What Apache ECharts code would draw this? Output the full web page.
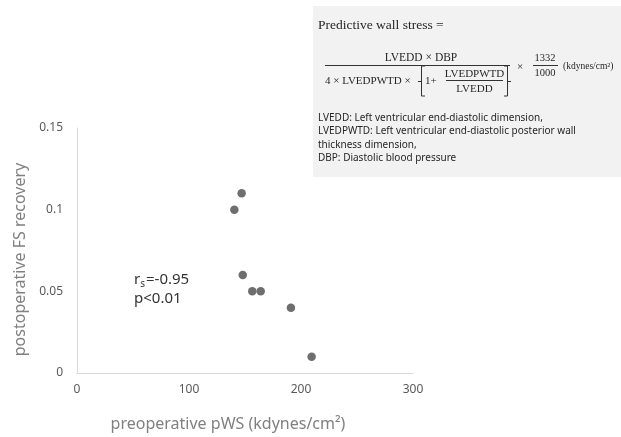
<!DOCTYPE html>
<html>
<head>
<meta charset="utf-8">
<script src="https://cdn.jsdelivr.net/npm/echarts@6/dist/echarts.min.js"></script>
<style>
  html, body { margin: 0; padding: 0; background: #ffffff; }
  #chart { width: 621px; height: 437px; }
</style>
</head>
<body>
<div id="chart"></div>
<script>
// Preoperative predictive wall stress vs. postoperative FS recovery
const pwsValues = [147, 140.5, 148, 156.5, 164, 191, 209.5];
const fsRecovery = [0.11, 0.10, 0.06, 0.05, 0.05, 0.04, 0.01];
const xTicks = { min: 0, max: 300, interval: 100 };
const yTicks = { min: 0, max: 0.15, interval: 0.05 };
const xName = 'preoperative pWS (kdynes/cm\u00B2)';
const yName = 'postoperative FS recovery';
const statLines = ['-0.95', 'p<0.01'];
const legendLines = [
  'LVEDD: Left ventricular end-diastolic dimension,',
  'LVEDPWTD: Left ventricular end-diastolic posterior wall',
  'thickness dimension,',
  'DBP: Diastolic blood pressure'
];

const points = pwsValues.map((x, i) => [x, fsRecovery[i]]);

const sans = '"Noto Sans", "Open Sans", sans-serif';
const serif = '"Liberation Serif", "DejaVu Serif", serif';
const ink = '#262626';

function t(text, x, y, size, align, font) {
  return {
    type: 'text',
    x: x, y: y,
    style: { text: text, font: size + 'px ' + (font || serif), fill: ink,
             align: align || 'left', verticalAlign: 'middle' }
  };
}
function seg(x1, y1, x2, y2) {
  return { type: 'line', shape: { x1: x1, y1: y1, x2: x2, y2: y2 },
           style: { stroke: '#333', lineWidth: 1 } };
}
function poly(pts) {
  return { type: 'polyline', shape: { points: pts },
           style: { stroke: '#333', lineWidth: 1, fill: null } };
}

// Formula panel for the predictive wall stress definition
const formula = [
  { type: 'rect', shape: { x: 313, y: 6, width: 308, height: 171 },
    style: { fill: '#f2f2f2' }, z: 0 },
  t('Predictive wall stress =', 318, 25, 13.5),
  t('LVEDD \u00D7 DBP', 421, 58, 11.5, 'center'),
  seg(325, 65.5, 510, 65.5),
  t('4 \u00D7 LVEDPWTD \u00D7', 325, 81, 11),
  poly([[425, 66], [421.5, 66], [421.5, 96], [425, 96]]),
  seg(418, 81.5, 421.5, 81.5),
  t('1+', 425, 81, 11),
  t('LVEDPWTD', 474.5, 74, 11, 'center'),
  seg(446, 80.5, 503, 80.5),
  t('LVEDD', 474.5, 89, 11, 'center'),
  poly([[504, 66], [507.5, 66], [507.5, 96], [504, 96]]),
  seg(507.5, 81.5, 511, 81.5),
  t('\u00D7', 520, 67, 11, 'center'),
  t('1332', 545, 58, 10.5, 'center'),
  seg(533, 65.5, 558, 65.5),
  t('1000', 545, 73, 10.5, 'center'),
  t('(kdynes/cm\u00B2)', 563, 66, 9.5)
];
legendLines.forEach((line, i) => {
  formula.push(t(line, 318, 118 + i * 13.4, 10, 'left', sans));
});

// Spearman statistics label
formula.push({
  type: 'text', x: 134, y: 270,
  style: {
    text: '{r|r}{s|s}{r|=' + statLines[0] + '}\n{r|' + statLines[1] + '}',
    font: '15px ' + sans, fill: '#333', align: 'left', verticalAlign: 'top',
    rich: {
      r: { fontSize: 15, fontFamily: sans, color: '#333', lineHeight: 19, verticalAlign: 'middle' },
      s: { fontSize: 10, fontFamily: sans, color: '#333', lineHeight: 19, verticalAlign: 'bottom', padding: [0, 1, 0, 0] }
    }
  }
});

const chart = echarts.init(document.getElementById('chart'), null, { renderer: 'canvas' });
chart.setOption({
  animation: false,
  backgroundColor: '#ffffff',
  grid: { left: 77, right: 208, top: 128, bottom: 59, containLabel: false },
  xAxis: {
    type: 'value', min: xTicks.min, max: xTicks.max, interval: xTicks.interval,
    name: xName, nameLocation: 'middle', nameGap: 43,
    nameTextStyle: { fontSize: 16, fontFamily: sans, color: '#808080', padding: [0, 34, 0, 0] },
    axisLine: { show: true, lineStyle: { color: '#d9d9d9', width: 1 } },
    axisTick: { show: false },
    splitLine: { show: false },
    axisLabel: { fontSize: 12, fontFamily: sans, color: '#595959', margin: 11 }
  },
  yAxis: {
    type: 'value', min: yTicks.min, max: yTicks.max, interval: yTicks.interval,
    name: yName, nameLocation: 'middle', nameGap: 46,
    nameTextStyle: { fontSize: 16, fontFamily: sans, color: '#808080', padding: [0, 18, 0, 0] },
    axisLine: { show: true, lineStyle: { color: '#d9d9d9', width: 1 } },
    axisTick: { show: false },
    splitLine: { show: false },
    axisLabel: { fontSize: 12, fontFamily: sans, color: '#595959', margin: 14 }
  },
  series: [{
    type: 'scatter',
    data: points,
    symbol: 'circle',
    symbolSize: 8.5,
    itemStyle: { color: '#4a4a4a' }
  }],
  graphic: formula
});
</script>
</body>
</html>
